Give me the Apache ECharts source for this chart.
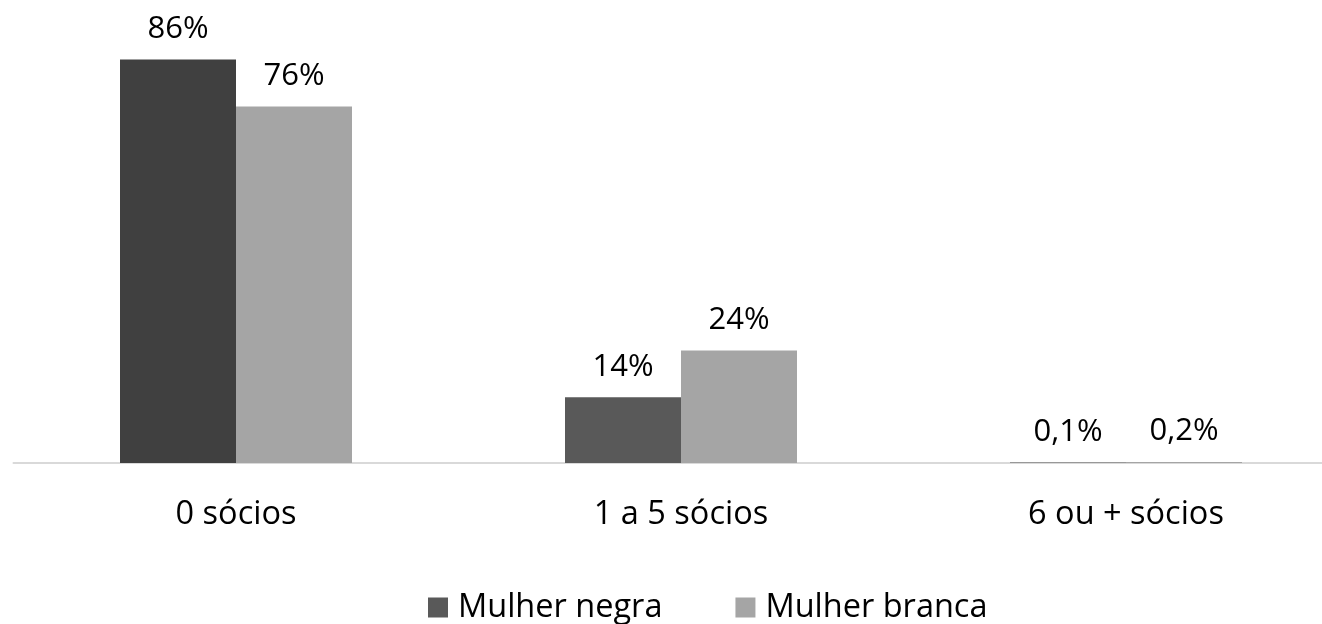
<!DOCTYPE html>
<html><head><meta charset="utf-8">
<script src="https://cdn.jsdelivr.net/npm/echarts@6/dist/echarts.min.js"></script>
<style>html,body{margin:0;padding:0;background:#fff}#c{width:1322px;height:624px}</style>
</head><body><div id="c"></div>
<script>
const categories = ['0 sócios', '1 a 5 sócios', '6 ou + sócios'];
const seriesNames = ['Mulher negra', 'Mulher branca'];
const mulherNegra = [86, 14, 0.1];
const mulherBranca = [76, 24, 0.2];

const fontFam = '"Open Sans", "Noto Sans", sans-serif';
const fmt = p => String(p.value).replace('.', ',') + '%';

const chart = echarts.init(document.getElementById('c'));
chart.setOption({
  animation: false,
  grid: { left: 13.5, width: 1335, top: 0, height: 463, containLabel: false, outerBoundsMode: 'none' },
  legend: {
    bottom: -5, left: 423, itemWidth: 20, itemHeight: 20, itemGap: 73,
    icon: 'rect',
    textStyle: { fontFamily: fontFam, fontSize: 32.5, color: '#000', padding: [0, 0, 0, 5] },
    data: seriesNames
  },
  xAxis: {
    type: 'category', data: categories,
    axisLine: { lineStyle: { color: '#d9d9d9', width: 2 } },
    axisTick: { show: false },
    axisLabel: { margin: 35, fontFamily: fontFam, fontSize: 32.5, color: '#000' }
  },
  yAxis: { type: 'value', min: 0, max: 98.7, show: false, splitLine: { show: false } },
  series: [
    {
      name: seriesNames[0], type: 'bar', barWidth: 116, barGap: '0%',
      itemStyle: { color: '#595959' },
      data: mulherNegra.map((v, i) => i === 0 ? { value: v, itemStyle: { color: '#404040' } } : v),
      label: { show: true, position: 'top', distance: 15, formatter: fmt, fontFamily: fontFam, fontSize: 31, color: '#000' }
    },
    {
      name: seriesNames[1], type: 'bar', barWidth: 116, barGap: '0%',
      itemStyle: { color: '#a5a5a5' },
      data: mulherBranca,
      label: { show: true, position: 'top', distance: 15, formatter: fmt, fontFamily: fontFam, fontSize: 31, color: '#000' }
    }
  ]
});
</script></body></html>
